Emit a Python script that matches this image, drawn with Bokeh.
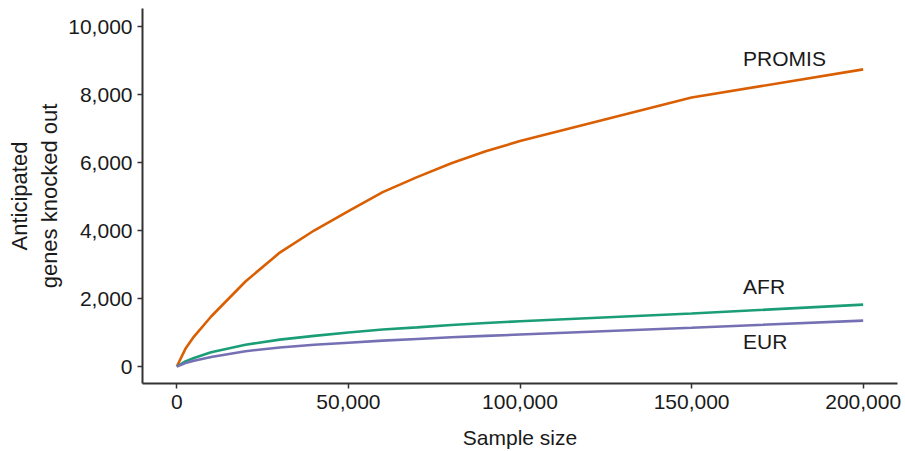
from bokeh.plotting import figure
from bokeh.models import Range1d, FixedTicker, NumeralTickFormatter, ColumnDataSource
from bokeh.core.properties import value
from bokeh.embed import file_html
from bokeh.resources import INLINE

# Sample sizes at which the expected number of knocked-out genes was estimated
sample_size = [0, 2500, 5000, 10000, 20000, 30000, 40000, 50000, 60000, 70000,
               80000, 90000, 100000, 150000, 200000]
promis = [0, 520, 880, 1470, 2500, 3350, 4000, 4570, 5130, 5570,
          5980, 6330, 6630, 7910, 8740]
afr = [0, 150, 250, 420, 640, 790, 900, 1000, 1090, 1150,
       1220, 1280, 1330, 1560, 1820]
eur = [0, 100, 170, 280, 450, 560, 640, 700, 760, 810,
       860, 900, 940, 1140, 1350]

series_names = ["PROMIS", "AFR", "EUR"]
series_colors = ["#D95F02", "#1B9E77", "#7570B3"]
label_x = [165000, 165000, 165000]
label_y = [9060, 2350, 735]

x_ticks = [0, 50000, 100000, 150000, 200000]
y_ticks = [0, 2000, 4000, 6000, 8000, 10000]

FONT = "Liberation Sans"
TEXT_COLOR = "#1a1a1a"
AXIS_COLOR = "#333333"

p = figure(width=905, height=451, output_backend="svg", toolbar_location=None,
           x_range=Range1d(-10000, 210000), y_range=Range1d(-500, 10530),
           min_border_left=142, min_border_right=8, min_border_top=8,
           min_border_bottom=68)
p.outline_line_color = None
p.grid.visible = False
p.background_fill_color = "white"
p.border_fill_color = "white"

for ys, c in zip([promis, afr, eur], series_colors):
    p.line(sample_size, ys, line_color=c, line_width=2.6)

src = ColumnDataSource(dict(x=label_x, y=label_y, t=series_names))
p.text(x="x", y="y", text="t", source=src, text_font=value(FONT),
       text_font_size="21px", text_color=TEXT_COLOR,
       text_align="left", text_baseline="alphabetic")

for ax in (p.xaxis[0], p.yaxis[0]):
    ax.axis_line_color = AXIS_COLOR
    ax.axis_line_width = 2
    ax.major_tick_line_color = AXIS_COLOR
    ax.major_tick_line_width = 1.5
    ax.major_tick_out = 5
    ax.major_tick_in = 0
    ax.minor_tick_line_color = None
    ax.major_label_text_font = FONT
    ax.major_label_text_font_size = "21px"
    ax.major_label_text_color = TEXT_COLOR
    ax.axis_label_text_font = FONT
    ax.axis_label_text_font_size = "21px"
    ax.axis_label_text_font_style = "normal"
    ax.axis_label_text_color = TEXT_COLOR
    ax.formatter = NumeralTickFormatter(format="0,0")

p.xaxis.ticker = FixedTicker(ticks=x_ticks)
p.yaxis.ticker = FixedTicker(ticks=y_ticks)
p.xaxis.major_label_standoff = 6
p.yaxis.major_label_standoff = 5
p.xaxis.axis_label = "Sample size"
p.xaxis.axis_label_standoff = 14
p.yaxis.axis_label = "Anticipated\ngenes knocked out"
p.yaxis.axis_label_text_font_size = "22px"
p.yaxis.axis_label_standoff = 3

open("out.html", "w").write(file_html(p, INLINE))
